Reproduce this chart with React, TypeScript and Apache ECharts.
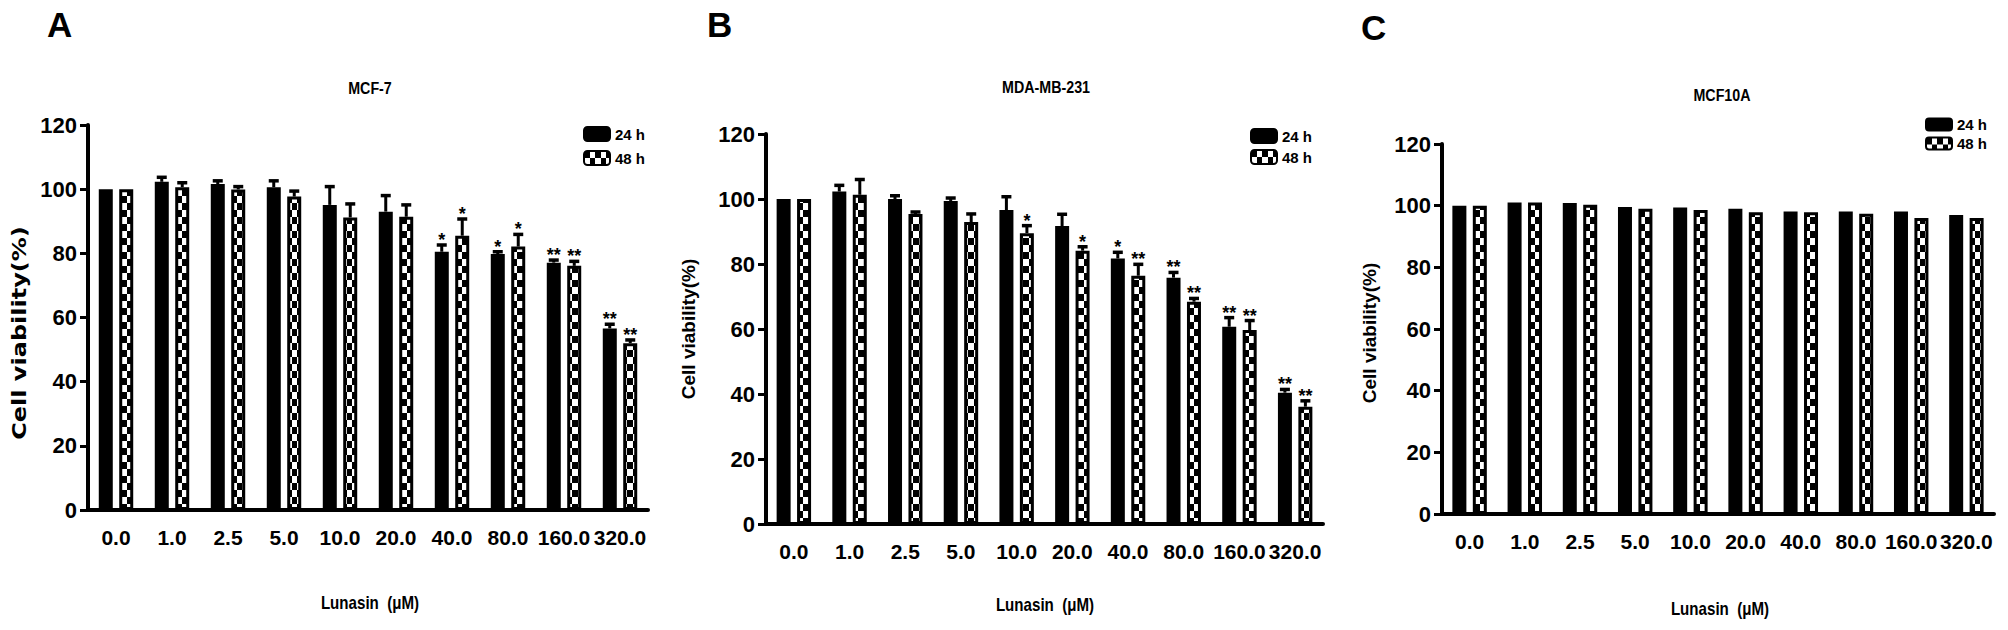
import React, { useEffect, useRef } from 'react';
import * as echarts from 'echarts';

// ---------- data ----------
const categories = ['0.0', '1.0', '2.5', '5.0', '10.0', '20.0', '40.0', '80.0', '160.0', '320.0'];
const yTicks = [0, 20, 40, 60, 80, 100, 120];
const seriesNames = ['24 h', '48 h'];

// Panel A: MCF-7
const mcf7_24 = [100, 102.3, 101.6, 100.6, 95.1, 93.0, 80.5, 79.8, 77.1, 56.6];
const mcf7_24_err = [0, 1.4, 1.0, 2.0, 5.7, 5.0, 2.1, 0.7, 0.8, 1.3];
const mcf7_48 = [100, 100.6, 99.9, 97.7, 91.2, 91.4, 85.5, 82.1, 76.1, 52.0];
const mcf7_48_err = [0, 1.4, 0.9, 1.7, 4.2, 3.7, 5.2, 3.8, 1.4, 1.0];
const mcf7_24_sig = ['', '', '', '', '', '', '*', '*', '**', '**'];
const mcf7_48_sig = ['', '', '', '', '', '', '*', '*', '**', '**'];

// Panel B: MDA-MB-231
const mda_24 = [100, 102.3, 100, 99.4, 96.6, 91.7, 81.7, 75.8, 60.7, 40.4];
const mda_24_err = [0, 1.9, 1.0, 0.9, 4.1, 3.6, 1.9, 1.6, 2.8, 1.0];
const mda_48 = [100, 101.3, 95.4, 92.9, 89.5, 84.1, 76.4, 68.4, 59.7, 36.1];
const mda_48_err = [0, 4.7, 0.6, 2.5, 2.3, 1.2, 3.5, 1.0, 2.9, 1.8];
const mda_24_sig = ['', '', '', '', '', '', '*', '**', '**', '**'];
const mda_48_sig = ['', '', '', '', '*', '*', '**', '**', '**', '**'];

// Panel C: MCF10A
const mcf10a_24 = [100, 101, 100.9, 99.6, 99.4, 99.0, 98.1, 98.1, 98.1, 97.0];
const mcf10a_48 = [100, 101, 100.3, 99.0, 98.6, 97.9, 97.9, 97.4, 96.0, 96.0];

const panelLetters = ['A', 'B', 'C'];
const panelTitles = ['MCF-7', 'MDA-MB-231', 'MCF10A'];
const xAxisTitle = 'Lunasin  (μM)';
const yAxisTitle = 'Cell viability(%)';

// ---------- styling ----------
const SANS = "'Liberation Sans', Arial, Helvetica, sans-serif";
const NARROW_SCALE = 0.84;

const layouts = [
  { left: 88, top: 125, width: 560, height: 385, legendLeft: 583, legendTop: 126, legendGap: 8, legendH: 14,
    letter: [47, 24], title: [370, 88], xName: [370, 603], yName: [19, 333], yNameFont: "bold 20px 'DejaVu Sans', sans-serif", yNameScale: 1.2 },
  { left: 766, top: 134, width: 557, height: 390, legendLeft: 1250, legendTop: 128, legendGap: 5, legendH: 14,
    letter: [707, 24], title: [1046, 87], xName: [1045, 605], yName: [688, 329], yNameFont: `bold 19px ${SANS}`, yNameScale: 1 },
  { left: 1442, top: 144, width: 552, height: 370, legendLeft: 1925, legendTop: 117, legendGap: 4, legendH: 12,
    letter: [1361, 27], title: [1722, 95], xName: [1720, 609], yName: [1369, 333], yNameFont: `bold 19px ${SANS}`, yNameScale: 1 },
];

const BAR_W = 14;
const BAR_OFFSET = 10.25;

function makePattern() {
  const c = document.createElement('canvas');
  c.width = 11;
  c.height = 14;
  const ctx = c.getContext('2d')!;
  ctx.fillStyle = '#fff';
  ctx.fillRect(0, 0, 11, 14);
  ctx.fillStyle = '#000';
  ctx.fillRect(0, 0, 6, 7);
  ctx.fillRect(6, 7, 5, 7);
  return c;
}

function errorSeries(gi: number, values: number[], errs: number[], sig: string[], offset: number) {
  return {
    type: 'custom',
    xAxisIndex: gi,
    yAxisIndex: gi,
    silent: true,
    z: 5,
    data: values.map((v, i) => [i, v, v + errs[i]]),
    renderItem: (params: any, api: any) => {
      const i = api.value(0);
      const v = api.value(1);
      const t = api.value(2);
      const base = api.coord([i, v]);
      const tp = api.coord([i, t]);
      const x = base[0] + offset;
      const children: any[] = [];
      if (t > v) {
        children.push({ type: 'line', shape: { x1: x, y1: base[1], x2: x, y2: tp[1] }, style: { stroke: '#000', lineWidth: 3 } });
        children.push({ type: 'line', shape: { x1: x - 5, y1: tp[1], x2: x + 5, y2: tp[1] }, style: { stroke: '#000', lineWidth: 3.5 } });
      }
      const s = sig[params.dataIndex];
      if (s) {
        children.push({
          type: 'text', x, y: tp[1] - 5,
          style: { text: s, font: `bold 18px ${SANS}`, fill: '#000', align: 'center', verticalAlign: 'middle', textAlign: 'center', textVerticalAlign: 'middle' },
        });
      }
      return { type: 'group', children };
    },
  };
}

export default function App() {
  const ref = useRef<HTMLDivElement>(null);

  useEffect(() => {
    if (!ref.current) return;
    const chart = echarts.init(ref.current, null, { renderer: 'svg' });
    const pattern = { image: makePattern(), repeat: 'repeat', imageWidth: 11, imageHeight: 14 };

    const panels = [
      { v24: mcf7_24, e24: mcf7_24_err, s24: mcf7_24_sig, v48: mcf7_48, e48: mcf7_48_err, s48: mcf7_48_sig },
      { v24: mda_24, e24: mda_24_err, s24: mda_24_sig, v48: mda_48, e48: mda_48_err, s48: mda_48_sig },
      { v24: mcf10a_24, e24: null, s24: null, v48: mcf10a_48, e48: null, s48: null },
    ];

    const grid: any[] = [];
    const xAxis: any[] = [];
    const yAxis: any[] = [];
    const legend: any[] = [];
    const series: any[] = [];
    const graphic: any[] = [];

    panels.forEach((p, gi) => {
      const L = layouts[gi];
      grid.push({ left: L.left, top: L.top, width: L.width, height: L.height, containLabel: false });
      xAxis.push({
        type: 'category', gridIndex: gi, data: categories, boundaryGap: true,
        axisLine: { lineStyle: { color: '#000', width: 4 } },
        axisTick: { alignWithLabel: true, length: 10, lineStyle: { color: '#000', width: 3 } },
        axisLabel: { color: '#000', fontFamily: SANS, fontWeight: 'bold', fontSize: 21, margin: 17, interval: 0 },
        splitLine: { show: false },
      });
      yAxis.push({
        type: 'value', gridIndex: gi, min: yTicks[0], max: yTicks[yTicks.length - 1], interval: 20,
        axisLine: { show: true, lineStyle: { color: '#000', width: 4 } },
        axisTick: { show: true, length: 8, lineStyle: { color: '#000', width: 3 } },
        axisLabel: { color: '#000', fontFamily: SANS, fontWeight: 'bold', fontSize: 22, margin: 11 },
        splitLine: { show: false },
      });
      legend.push({
        orient: 'vertical', left: L.legendLeft, top: L.legendTop, padding: 0,
        itemWidth: 26, itemHeight: L.legendH, itemGap: L.legendGap, selectedMode: false,
        data: seriesNames,
        textStyle: { color: '#000', fontFamily: SANS, fontWeight: 'bold', fontSize: 15, lineHeight: L.legendH },
      });
      series.push({
        type: 'bar', name: seriesNames[0], xAxisIndex: gi, yAxisIndex: gi, data: p.v24,
        barWidth: BAR_W, barGap: '46%',
        itemStyle: { color: '#000', borderColor: '#000', borderWidth: 3 }, z: 2,
      });
      series.push({
        type: 'bar', name: seriesNames[1], xAxisIndex: gi, yAxisIndex: gi, data: p.v48,
        barWidth: BAR_W, barGap: '46%',
        itemStyle: { color: pattern, borderColor: '#000', borderWidth: 3 }, z: 2,
      });
      if (p.e24) series.push(errorSeries(gi, p.v24, p.e24, p.s24 as string[], -BAR_OFFSET));
      if (p.e48) series.push(errorSeries(gi, p.v48, p.e48, p.s48 as string[], BAR_OFFSET));

      graphic.push({
        type: 'text', x: L.letter[0], y: L.letter[1],
        style: { text: panelLetters[gi], font: `bold 35px ${SANS}`, fill: '#000', align: 'left', verticalAlign: 'middle', textAlign: 'left', textVerticalAlign: 'middle' },
      });
      graphic.push({
        type: 'text', x: L.title[0], y: L.title[1], scaleX: NARROW_SCALE,
        style: { text: panelTitles[gi], font: `bold 17px ${SANS}`, fill: '#000', align: 'center', verticalAlign: 'middle', textAlign: 'center', textVerticalAlign: 'middle' },
      });
      graphic.push({
        type: 'text', x: L.xName[0], y: L.xName[1], scaleX: NARROW_SCALE,
        style: { text: xAxisTitle, font: `bold 18px ${SANS}`, fill: '#000', align: 'center', verticalAlign: 'middle', textAlign: 'center', textVerticalAlign: 'middle' },
      });
      graphic.push({
        type: 'text', x: L.yName[0], y: L.yName[1], rotation: Math.PI / 2, scaleX: L.yNameScale,
        style: { text: yAxisTitle, font: L.yNameFont, fill: '#000', align: 'center', verticalAlign: 'middle', textAlign: 'center', textVerticalAlign: 'middle' },
      });
    });

    chart.setOption({
      animation: false,
      backgroundColor: '#fff',
      grid, xAxis, yAxis, legend, series, graphic,
    });
    return () => chart.dispose();
  }, []);

  return <div ref={ref} style={{ position: 'fixed', left: 0, top: 0, width: 2008, height: 630, background: '#fff' }} />;
}
